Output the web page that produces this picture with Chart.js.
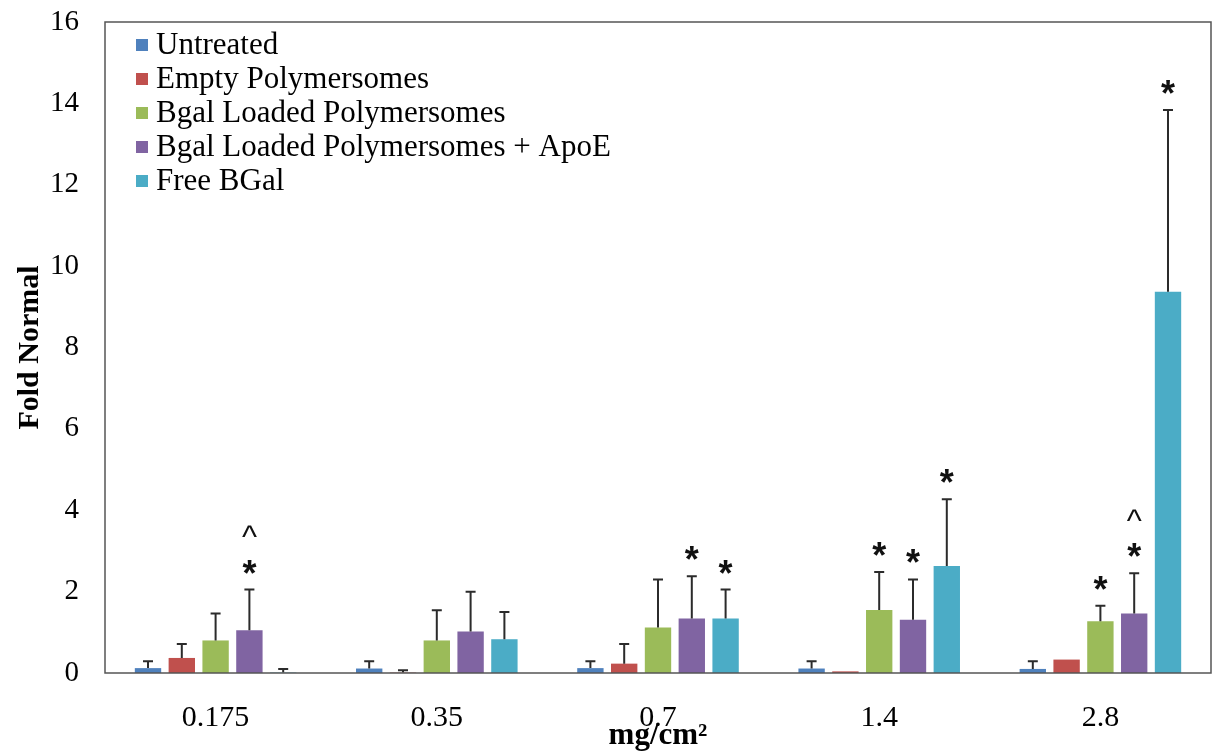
<!DOCTYPE html>
<html>
<head>
<meta charset="utf-8">
<script src="https://cdn.jsdelivr.net/npm/chart.js@4.4.1/dist/chart.umd.min.js"></script>
<style>
  html, body { margin: 0; padding: 0; background: #ffffff; }
  #wrap { width: 1214px; height: 751px; }
</style>
</head>
<body>
<div id="wrap"><canvas id="c" width="1214" height="751"></canvas></div>
<script>
// ---- data ----
const categories = ["0.175", "0.35", "0.7", "1.4", "2.8"];
const seriesNames = ["Untreated", "Empty Polymersomes", "Bgal Loaded Polymersomes", "Bgal Loaded Polymersomes + ApoE", "Free BGal"];
const untreated   = [0.12, 0.11, 0.12, 0.11, 0.10];
const emptyPoly   = [0.37, 0.01, 0.23, 0.04, 0.33];
const bgalPoly    = [0.80, 0.80, 1.12, 1.55, 1.27];
const bgalApoE    = [1.05, 1.02, 1.34, 1.31, 1.46];
const freeBgal    = [0.01, 0.83, 1.34, 2.63, 9.37];
const untreatedErr = [0.17, 0.18, 0.17, 0.18, 0.19];
const emptyPolyErr = [0.34, 0.06, 0.48, 0.00, 0.00];
const bgalPolyErr  = [0.66, 0.74, 1.18, 0.93, 0.38];
const bgalApoEErr  = [1.00, 0.98, 1.04, 0.99, 0.99];
const freeBgalErr  = [0.09, 0.67, 0.71, 1.64, 4.47];
// significance marks (listed from bottom to top)
const untreatedMarks = ["", "", "", "", ""];
const emptyPolyMarks = ["", "", "", "", ""];
const bgalPolyMarks  = ["", "", "", "*", "*"];
const bgalApoEMarks  = ["*^", "", "*", "*", "*^"];
const freeBgalMarks  = ["", "", "*", "*", "*"];
const yTicks = [0, 2, 4, 6, 8, 10, 12, 14, 16];
const colors = ["#4F81BD", "#C0504D", "#9BBB59", "#8064A2", "#4BACC6"];

const values = [untreated, emptyPoly, bgalPoly, bgalApoE, freeBgal];
const errs = [untreatedErr, emptyPolyErr, bgalPolyErr, bgalApoEErr, freeBgalErr];
const marks = [untreatedMarks, emptyPolyMarks, bgalPolyMarks, bgalApoEMarks, freeBgalMarks];

const SERIF = "'Liberation Serif', 'Times New Roman', serif";

const datasets = seriesNames.map((name, i) => ({
  label: name,
  data: values[i],
  errors: errs[i],
  marks: marks[i],
  backgroundColor: colors[i],
  borderWidth: 0,
  categoryPercentage: 0.764,
  barPercentage: 0.78
}));

const extrasPlugin = {
  id: 'extras',
  afterDatasetsDraw(chart) {
    const ctx = chart.ctx;
    const yScale = chart.scales.y;
    chart.data.datasets.forEach((ds, i) => {
      const meta = chart.getDatasetMeta(i);
      meta.data.forEach((bar, j) => {
        const v = ds.data[j];
        const e = ds.errors[j];
        const x = bar.x;
        const yTop = yScale.getPixelForValue(v);
        const yErr = yScale.getPixelForValue(v + e);
        ctx.save();
        if (e > 0) {
          ctx.strokeStyle = '#2b2b2b';
          ctx.lineWidth = 2;
          ctx.beginPath();
          ctx.moveTo(x, yTop);
          ctx.lineTo(x, yErr);
          ctx.moveTo(x - 5, yErr);
          ctx.lineTo(x + 5, yErr);
          ctx.stroke();
        }
        const m = ds.marks[j];
        if (m) {
          ctx.fillStyle = '#111';
          ctx.textAlign = 'center';
          ctx.textBaseline = 'middle';
          let yc = yErr - 22;
          for (const ch of m) {
            if (ch === '*') {
              ctx.font = "bold 36px 'Liberation Sans', Arial, sans-serif";
              ctx.fillText('*', x, yc + 8);
            } else if (ch === '^') {
              ctx.font = "32px 'Liberation Sans', Arial, sans-serif";
              ctx.fillText('^', x, yc + 5);
            }
            yc -= 34;
          }
        }
        ctx.restore();
      });
    });
  },
  afterDraw(chart) {
    const ctx = chart.ctx;
    const a = chart.chartArea;
    ctx.save();
    // frame
    ctx.strokeStyle = '#555555';
    ctx.lineWidth = 1.5;
    ctx.strokeRect(a.left, a.top, a.right - a.left, a.bottom - a.top);
    // legend
    ctx.font = "31px " + SERIF;
    ctx.textBaseline = 'middle';
    ctx.textAlign = 'left';
    chart.data.datasets.forEach((ds, i) => {
      const yc = a.top + 23 + i * 34;
      ctx.fillStyle = ds.backgroundColor;
      ctx.fillRect(a.left + 31, yc - 6, 12, 12);
      ctx.fillStyle = '#000';
      ctx.fillText(ds.label, a.left + 51, yc + 1);
    });
    ctx.restore();
  }
};

new Chart(document.getElementById('c'), {
  type: 'bar',
  data: { labels: categories, datasets },
  options: {
    responsive: false,
    devicePixelRatio: 1,
    animation: false,
    layout: { padding: { top: 22, right: 3, left: 0, bottom: 0 } },
    plugins: { legend: { display: false }, tooltip: { enabled: false } },
    scales: {
      x: {
        grid: { display: false, drawTicks: false },
        border: { display: false },
        ticks: { color: '#000', font: { family: SERIF, size: 30 }, padding: 27 },
        title: { display: true, text: 'mg/cm²', color: '#000', font: { family: SERIF, size: 31, weight: 'bold', lineHeight: 1 }, padding: 0 },
        afterFit(s) { s.height = 78; s.paddingTop = 0; s.paddingBottom = 0; }
      },
      y: {
        min: 0, max: 16,
        afterBuildTicks(s) { s.ticks = yTicks.map(v => ({ value: v })); },
        grid: { display: false, drawTicks: false },
        border: { display: false },
        ticks: { color: '#000', font: { family: SERIF, size: 29 }, padding: 26 },
        title: { display: true, text: 'Fold Normal', color: '#000', font: { family: SERIF, size: 30, weight: 'bold', lineHeight: 1.2 }, padding: { top: 12, bottom: 0 } },
        afterFit(s) { s.width = 105; s.paddingTop = 0; s.paddingBottom = 0; }
      }
    }
  },
  plugins: [extrasPlugin]
});
</script>
</body>
</html>
